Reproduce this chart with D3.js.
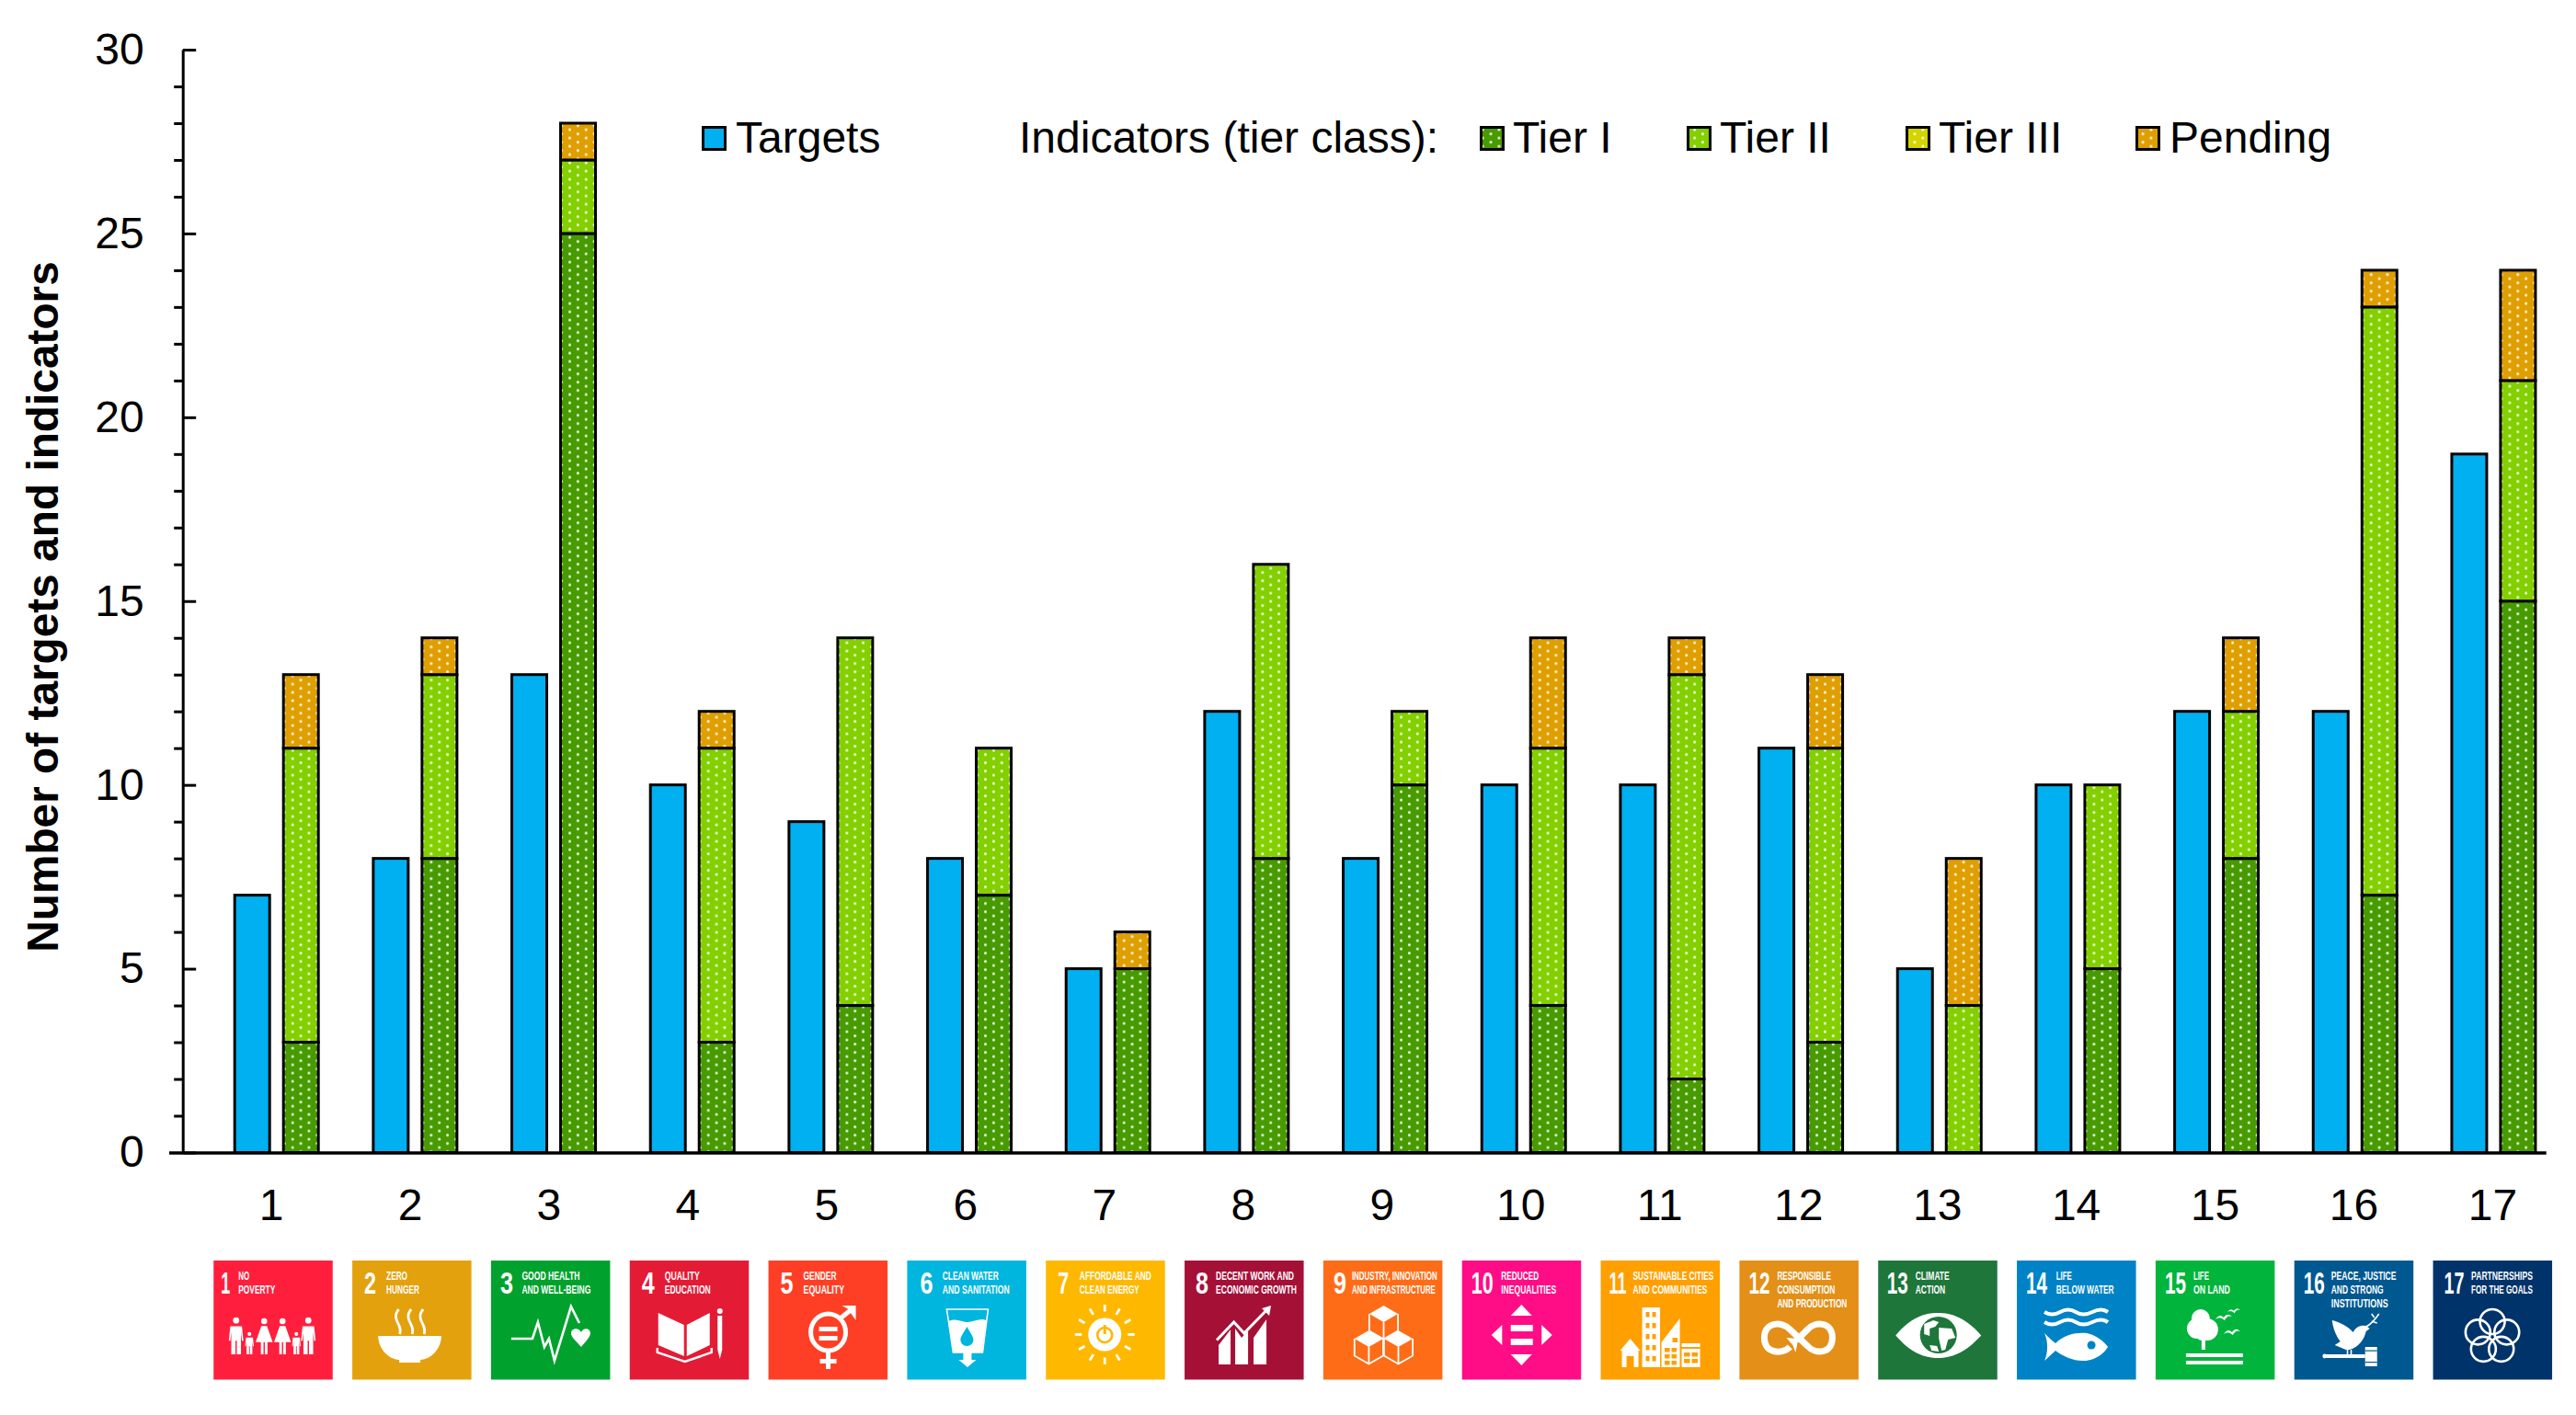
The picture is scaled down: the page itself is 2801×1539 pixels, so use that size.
<!DOCTYPE html>
<html>
<head>
<meta charset="utf-8">
<title>SDG targets and indicators</title>
<script src="https://cdn.jsdelivr.net/npm/d3@7/dist/d3.min.js"></script>
<style>
    html, body { margin: 0; padding: 0; background: #fff; }
    svg { display: block; }
    text { font-family: "Liberation Sans", Arial, sans-serif; fill: #000; }
    .icon text { fill: #fff; font-weight: bold; }
</style>
</head>
<body>
<svg id="chart" width="2801" height="1539"></svg>
<script>
// Data
const goals = [1, 2, 3, 4, 5, 6, 7, 8, 9, 10, 11, 12, 13, 14, 15, 16, 17];
const targets = [7, 8, 13, 10, 9, 8, 5, 12, 8, 10, 10, 11, 5, 10, 12, 12, 19];
const tierOne = [3, 8, 25, 3, 4, 7, 5, 8, 10, 4, 2, 3, 0, 5, 8, 7, 15];
const tierTwo = [8, 5, 2, 8, 10, 4, 0, 8, 2, 7, 11, 8, 4, 5, 4, 16, 6];
const tierThree = [0, 0, 0, 0, 0, 0, 0, 0, 0, 0, 0, 0, 0, 0, 0, 0, 0];
const pending = [2, 1, 1, 1, 0, 0, 1, 0, 0, 3, 1, 2, 4, 0, 2, 1, 3];
const yTicks = [0, 5, 10, 15, 20, 25, 30];
const yMinorTicks = d3.range(0, 31).filter(d => d % 5 !== 0);

// Tile captions
const goalTitles = [
    ["NO", "POVERTY"], ["ZERO", "HUNGER"], ["GOOD HEALTH", "AND WELL-BEING"], ["QUALITY", "EDUCATION"],
    ["GENDER", "EQUALITY"], ["CLEAN WATER", "AND SANITATION"], ["AFFORDABLE AND", "CLEAN ENERGY"],
    ["DECENT WORK AND", "ECONOMIC GROWTH"], ["INDUSTRY, INNOVATION", "AND INFRASTRUCTURE"],
    ["REDUCED", "INEQUALITIES"], ["SUSTAINABLE CITIES", "AND COMMUNITIES"],
    ["RESPONSIBLE", "CONSUMPTION", "AND PRODUCTION"], ["CLIMATE", "ACTION"], ["LIFE", "BELOW WATER"],
    ["LIFE", "ON LAND"], ["PEACE, JUSTICE", "AND STRONG", "INSTITUTIONS"], ["PARTNERSHIPS", "FOR THE GOALS"]
];

// Tile styling
const tileColors = ["#FF1F3D", "#E3A10E", "#00A22D", "#E31B35", "#FF3F25", "#00B5DE", "#FFB800", "#A51037", "#FF6C17",
    "#FF0D87", "#FF9F00", "#E38F18", "#1E763A", "#0083C6", "#00B43C", "#005891", "#00336A"];
const numberLeft = [8, 13, 10, 13, 13, 14, 13, 12, 11, 10, 9, 10, 9.5, 10, 10, 10, 12];
const numberWidth = [10, 13, 14, 14, 14, 14, 12, 14, 14, 24, 19, 23, 23, 23, 23, 23, 22];
const titleLeft = [27, 37, 33.5, 38, 38, 38.4, 36.6, 34, 31, 42.5, 35, 41, 40.5, 42.7, 41, 40, 41.5];
const titleWidths = [[12, 40], [23, 36], [63, 75], [38, 50], [36, 44.5], [61, 73], [78, 65], [85, 88], [93, 91],
    [41, 60], [88, 81], [58.5, 63, 76], [37, 32.5], [17, 63], [17, 40], [71, 57, 62], [67, 67]];

const svg = d3.select("#chart");
const y0 = 1253.5;

const y = d3.scaleLinear().domain([0, 30]).range([y0, 54]);
const xBars = d3.scaleBand().domain(goals).range([225.2, 2786.6]);
const xLabels = d3.scalePoint().domain(goals).range([294.5, 2710]);
const xTiles = d3.scalePoint().domain(goals).range([297, 2710.3]);

const barWidth = 38;
const targetOffset = 30;     // from band start to targets bar
const stackOffset = 83;      // from band start to stacked bar

// Dotted fills, the period is tied to the bar spacing so every bar gets about the same dots
const defs = svg.append("defs");
const tierKeys = ["tierOne", "tierTwo", "tierThree", "pending"];
const tierData = { tierOne, tierTwo, tierThree, pending };
const tierColors = { tierOne: "#479B00", tierTwo: "#84CF00", tierThree: "#D4D400", pending: "#E09F00" };

tierKeys.forEach(key => {
    const p = defs.append("pattern")
        .attr("id", "dots-" + key)
        .attr("patternUnits", "userSpaceOnUse")
        .attr("x", 304.9)
        .attr("y", -0.5)
        .attr("width", 17.726)
        .attr("height", 9);
    p.append("rect").attr("width", 17.726).attr("height", 9).attr("fill", tierColors[key]);
    p.append("circle").attr("cx", 4.4).attr("cy", 2.2).attr("r", 1.4).attr("fill", "#fff");
    p.append("circle").attr("cx", 13.3).attr("cy", 6.7).attr("r", 1.4).attr("fill", "#fff");
});

// Bars
svg.append("g").selectAll("rect")
    .data(goals)
    .enter()
    .append("rect")
    .attr("x", d => xBars(d) + targetOffset)
    .attr("y", (d, i) => y(targets[i]))
    .attr("width", barWidth)
    .attr("height", (d, i) => y0 - y(targets[i]))
    .attr("fill", "#00B0F0")
    .attr("stroke", "#000")
    .attr("stroke-width", 3);

const stackRows = goals.map((goal, i) => {
    const row = { goal };
    tierKeys.forEach(key => { row[key] = tierData[key][i]; });
    return row;
});
const stacked = d3.stack().keys(tierKeys)(stackRows);

svg.append("g").selectAll("g")
    .data(stacked)
    .enter()
    .append("g")
    .attr("fill", d => "url(#dots-" + d.key + ")")
    .selectAll("rect")
    .data(d => d.filter(seg => seg[1] > seg[0]))
    .enter()
    .append("rect")
    .attr("x", d => xBars(d.data.goal) + stackOffset)
    .attr("y", d => y(d[1]))
    .attr("width", barWidth)
    .attr("height", d => y(d[0]) - y(d[1]))
    .attr("stroke", "#000")
    .attr("stroke-width", 3);

// Y axis, major ticks cross the line and minor ones only go left
const yAxis = svg.append("g")
    .attr("transform", "translate(198.7,0)")
    .call(d3.axisLeft(y).tickValues(yTicks).tickSize(14).tickPadding(28).tickSizeOuter(0));
yAxis.selectAll(".tick line").attr("x2", 14.5).attr("stroke-width", 3);
yAxis.select(".domain").attr("stroke-width", 3);
yAxis.selectAll("text").attr("font-size", 48).attr("font-family", '"Liberation Sans", Arial, sans-serif');

const yMinor = svg.append("g")
    .attr("transform", "translate(198.7,0)")
    .call(d3.axisLeft(y).tickValues(yMinorTicks).tickSize(9.5).tickFormat(""));
yMinor.select(".domain").remove();
yMinor.selectAll(".tick line").attr("stroke-width", 3);

// Baseline
svg.append("line")
    .attr("x1", 184).attr("x2", 2768.7)
    .attr("y1", y0 + 0.5).attr("y2", y0 + 0.5)
    .attr("stroke", "#000").attr("stroke-width", 3.5);

// Goal numbers under the axis
const xAxis = svg.append("g")
    .attr("transform", "translate(0," + y0 + ")")
    .call(d3.axisBottom(xLabels).tickSize(0).tickPadding(39));
xAxis.select(".domain").remove();
xAxis.selectAll("text").attr("font-size", 48).attr("font-family", '"Liberation Sans", Arial, sans-serif');

svg.append("text")
    .attr("transform", "translate(63,660) rotate(-90)")
    .attr("text-anchor", "middle")
    .attr("font-size", 47.8)
    .attr("font-weight", "bold")
    .text("Number of targets and indicators");

// Legend
const legendSwatches = [
    { x: 763, fill: "#00B0F0" },
    { x: 1609, fill: "url(#dots-tierOne)" },
    { x: 1834, fill: "url(#dots-tierTwo)" },
    { x: 2072, fill: "url(#dots-tierThree)" },
    { x: 2322, fill: "url(#dots-pending)" }
];
const legendLabels = [
    { x: 800, text: "Targets" },
    { x: 1108, text: "Indicators (tier class):" },
    { x: 1645, text: "Tier I" },
    { x: 1870, text: "Tier II" },
    { x: 2108, text: "Tier III" },
    { x: 2359, text: "Pending" }
];
svg.append("g").selectAll("rect")
    .data(legendSwatches)
    .enter()
    .append("rect")
    .attr("x", d => d.x + 1.5)
    .attr("y", 138.5)
    .attr("width", 24)
    .attr("height", 24)
    .attr("fill", d => d.fill)
    .attr("stroke", "#000")
    .attr("stroke-width", 3);
svg.append("g").selectAll("text")
    .data(legendLabels)
    .enter()
    .append("text")
    .attr("x", d => d.x)
    .attr("y", 166)
    .attr("font-size", 48)
    .text(d => d.text);

// Pictogram helpers, everything in the 130x130 space of a tile
const W = "#fff";
function fillPath(g, d, color) { return g.append("path").attr("d", d).attr("fill", color || W); }
function linePath(g, d, width, color) {
    return g.append("path").attr("d", d).attr("fill", "none")
        .attr("stroke", color || W).attr("stroke-width", width)
        .attr("stroke-linejoin", "miter");
}
function dot(g, cx, cy, r, color) { return g.append("circle").attr("cx", cx).attr("cy", cy).attr("r", r).attr("fill", color || W); }
function box(g, x, yy, w, h, color) { return g.append("rect").attr("x", x).attr("y", yy).attr("width", w).attr("height", h).attr("fill", color || W); }

function man(g, x, top, h) {
    const s = h / 38;
    dot(g, x, top + 3 * s, 3.2 * s);
    fillPath(g, `M${x - 6 * s},${top + 9 * s} H${x + 6 * s} L${x + 7.5 * s},${top + 24 * s} H${x + 6 * s} L${x + 5 * s},${top + 15 * s} V${top + h} H${x + 0.7 * s} V${top + 24 * s} H${x - 0.7 * s} V${top + h} H${x - 5 * s} V${top + 15 * s} L${x - 6 * s},${top + 24 * s} H${x - 7.5 * s}Z`);
}
function woman(g, x, top, h) {
    const s = h / 38;
    dot(g, x, top + 3 * s, 3.2 * s);
    fillPath(g, `M${x - 3 * s},${top + 8 * s} H${x + 3 * s} L${x + 9 * s},${top + 25 * s} H${x + 3.5 * s} V${top + h} H${x + 0.7 * s} V${top + 25 * s} H${x - 0.7 * s} V${top + h} H${x - 3.5 * s} V${top + 25 * s} H${x - 9 * s}Z`);
}
function cube(g, cx, top) {
    const a = 15.6, b = 9, c = 18.5;
    fillPath(g, `M${cx},${top} L${cx + a},${top + b} L${cx},${top + 2 * b} L${cx - a},${top + b}Z`);
    linePath(g, `M${cx - a},${top + b} V${top + b + c} L${cx},${top + 2 * b + c} L${cx + a},${top + b + c} V${top + b} M${cx},${top + 2 * b} V${top + 2 * b + c}`, 1.8);
}
function bird(g, x, yy, s) {
    fillPath(g, `M${x - 9 * s},${yy + 3 * s} Q${x - 4 * s},${yy - 4 * s} ${x},${yy + 1 * s} Q${x + 4 * s},${yy - 5 * s} ${x + 9 * s},${yy} Q${x + 4 * s},${yy - 2 * s} ${x + 1 * s},${yy + 4 * s} Q${x - 4 * s},${yy - 1 * s} ${x - 9 * s},${yy + 3 * s}Z`);
}

const pictograms = [
    g => {
        man(g, 24.5, 62, 40); woman(g, 55, 63, 39); woman(g, 75, 63, 39); man(g, 103, 62, 40);
        man(g, 39, 78, 24); man(g, 90, 78, 24);
    },
    g => {
        [50.5, 64, 77].forEach(x => linePath(g, `M${x},53 C${x - 6},60 ${x - 2},66 ${x},70 C${x + 2},74 ${x + 2},77 ${x + 1},80`, 2.8));
        fillPath(g, "M28,82 H97 C96,97 86,107 74,108 V111 H51 V108 C39,107 29,97 28,82Z");
    },
    g => {
        linePath(g, "M22,85 H45 L51,67 L58,94 L63,85 L69,109 L87,50 L96,68", 2.6);
        fillPath(g, "M98,94 C92,87 87,83 87,79 C87,74 95,72 98,78 C101,72 108,74 108,79 C108,83 103,88 98,94Z");
    },
    g => {
        fillPath(g, "M31,57 L59,70 V104 L31,92Z");
        fillPath(g, "M62,70 L87,57 V92 L62,104Z");
        linePath(g, "M30,95 V100 L60,110 L89,100 V95", 2.4);
        dot(g, 98, 55, 3);
        box(g, 95.5, 60, 5, 37);
        fillPath(g, "M95.5,97 H100.5 L98,107Z");
    },
    g => {
        g.append("ellipse").attr("cx", 65).attr("cy", 78).attr("rx", 19).attr("ry", 20)
            .attr("fill", "none").attr("stroke", W).attr("stroke-width", 5);
        box(g, 55, 72, 20, 5); box(g, 55, 82, 20, 5);
        linePath(g, "M78,63 L93,51", 5);
        fillPath(g, "M80,49 H95 V65 L90,58 L87,53Z");
        box(g, 62.5, 99, 5, 19); box(g, 56, 107, 18, 5);
    },
    (g, c) => {
        linePath(g, "M43,53 L50,100 H82 L88,53Z", 1.6);
        fillPath(g, "M45,66 C55,62 60,68 66,67 C74,66 80,62 86,65 L81.5,100 H50.5Z");
        fillPath(g, "M65,72 C69,79 72,83 72,86 C72,90 69,93 65,93 C61,93 58,90 58,86 C58,83 61,79 65,72Z", c);
        box(g, 61, 100, 9, 9);
        fillPath(g, "M56,108 H75 L65.5,116Z");
    },
    (g, c) => {
        dot(g, 64, 80.5, 18);
        g.append("g").selectAll("line").data(d3.range(12)).enter().append("line")
            .attr("x1", d => 64 + 25 * Math.sin(d * Math.PI / 6)).attr("x2", d => 64 + 32.5 * Math.sin(d * Math.PI / 6))
            .attr("y1", d => 80.5 - 25 * Math.cos(d * Math.PI / 6)).attr("y2", d => 80.5 - 32.5 * Math.cos(d * Math.PI / 6))
            .attr("stroke", W).attr("stroke-width", 2.8);
        g.append("circle").attr("cx", 64).attr("cy", 81).attr("r", 8).attr("fill", "none").attr("stroke", c).attr("stroke-width", 2.6);
        box(g, 62.5, 70, 3, 10, c);
    },
    g => {
        fillPath(g, "M37,92 L50,75 V113 H37Z");
        fillPath(g, "M55,74 L62,84 L69,76 V113 H55Z");
        fillPath(g, "M75,84 L89,64 V113 H75Z");
        linePath(g, "M35,86.5 L53.6,67 L64.7,79 L90,53", 3);
        fillPath(g, "M84,52 L94,49 L92,60Z");
    },
    g => {
        cube(g, 65.6, 49);
        cube(g, 49.5, 76);
        cube(g, 81.6, 76);
    },
    g => {
        fillPath(g, "M64.7,48 L76,60 H53Z");
        fillPath(g, "M64.7,114 L76,102 H53Z");
        fillPath(g, "M32,81 L43.6,70 V92Z");
        fillPath(g, "M98,81 L86.5,70 V92Z");
        box(g, 53, 70, 24, 7); box(g, 53, 85, 24, 7);
    },
    (g, c) => {
        fillPath(g, "M32,85 L43,98 H41 V116 H23 V98 H21Z");
        box(g, 28, 104, 8, 12, c);
        box(g, 45, 51, 19.5, 65);
        d3.range(5).forEach(r => [49, 56].forEach(x => box(g, x, 56 + r * 12, 4, 5.5, c)));
        fillPath(g, "M66,89 L86,63 V116 H66Z");
        d3.range(3).forEach(r => [69.5, 77].forEach(x => box(g, x, 95 + r * 7, 5.5, 4.5, c)));
        box(g, 78, 84, 5.5, 5, c);
        box(g, 88, 90, 20, 4);
        box(g, 88, 96, 20, 20);
        d3.range(2).forEach(r => [90.5, 99].forEach(x => box(g, x, 100 + r * 7, 6.5, 4.5, c)));
    },
    g => {
        linePath(g, "M55,94 C47,102 27,102 27,84 C27,66 47,66 55,75 L74,93 C82,102 101,102 101,84 C101,66 82,66 74,75 L62,87", 7);
        fillPath(g, "M51,84 L64,85 L61,100 L58,92Z");
    },
    (g, c) => {
        fillPath(g, "M19,81.5 C35,62 50,57 65,57 C80,57 95,62 112,81.5 C95,100 80,106 65,106 C50,106 35,100 19,81.5Z");
        dot(g, 65.5, 81, 20, c);
        fillPath(g, "M50,69 L60,65 L66,67 L62,72 L56,74 L56,82 L50,80Z");
        fillPath(g, "M66,73 L80,74 L84,84 L76,86 L73,97 L69,98 L66,85Z");
        fillPath(g, "M56,92 L64,93 L66,99 L58,98Z");
    },
    (g, c) => {
        [56, 67].forEach(yy => linePath(g, `M30,${yy} Q38,${yy + 5} 47,${yy} T64,${yy} T82,${yy} T99,${yy}`, 4));
        fillPath(g, "M30,79 C35,84 38,87 42,90 C52,80 65,78 76,79 C86,81 95,88 99,94 C94,102 84,109 72,109 C60,109 50,104 42,98 C38,102 34,105 30,109 C34,100 34,88 30,79Z");
        dot(g, 81, 92, 4.5, c);
    },
    g => {
        dot(g, 49, 63, 10); dot(g, 45, 74, 11); dot(g, 56, 75, 12); dot(g, 51, 79, 8);
        box(g, 50, 87, 4, 10);
        box(g, 33, 101, 62, 4); box(g, 33, 109, 62, 4);
        bird(g, 74, 61, 1); bird(g, 85, 54, 0.8); bird(g, 83, 77, 1);
    },
    (g, c) => {
        fillPath(g, "M41,65 C50,67 59,72 64,78 C67,72 72,70 78,71 L82,74 L78,77 C76,86 70,94 60,97 L56,97 L44,92 L50,88 C44,80 42,72 41,65Z");
        linePath(g, "M78,72 C82,70 88,64 92,58 M84,66 L90,68 M87,62 L84,58", 1.6);
        box(g, 57, 97, 1.6, 6); box(g, 61, 97, 1.6, 6);
        fillPath(g, "M33,102 H77 V106 H33Z");
        dot(g, 33, 104, 2.4);
        box(g, 77, 94, 13, 21);
        box(g, 77, 97.5, 13, 1.2, c); box(g, 77, 110, 13, 1.2, c);
    },
    g => {
        d3.range(5).forEach(i => {
            const a = i * 2 * Math.PI / 5;
            g.append("circle")
                .attr("cx", 64.5 + 16.5 * Math.sin(a))
                .attr("cy", 83 - 16.5 * Math.cos(a))
                .attr("r", 13.5)
                .attr("fill", "none").attr("stroke", W).attr("stroke-width", 2.6);
        });
    }
];

// Squeeze a text into a given width, the tile lettering is a condensed face
function squeeze(text, left, base, width) {
    const natural = text.node().getComputedTextLength();
    text.attr("transform", `translate(${left},${base}) scale(${width / natural},1)`);
}

// SDG tiles
const tileSize = 129.5;
const tiles = svg.append("g").selectAll("g")
    .data(goals)
    .enter()
    .append("g")
    .attr("class", "icon")
    .attr("transform", d => `translate(${xTiles(d) - tileSize / 2},1371)`);

tiles.append("rect")
    .attr("width", tileSize)
    .attr("height", tileSize)
    .attr("fill", (d, i) => tileColors[i]);

tiles.each(function (d, i) {
    const tile = d3.select(this);
    const number = tile.append("text").attr("font-size", 33).text(d);
    squeeze(number, numberLeft[i], 35.7, numberWidth[i]);
    goalTitles[i].forEach((line, k) => {
        const title = tile.append("text").attr("font-size", 13).text(line);
        squeeze(title, titleLeft[i], 21 + k * 15, titleWidths[i][k]);
    });
    pictograms[i](tile, tileColors[i]);
});
</script>
</body>
</html>
